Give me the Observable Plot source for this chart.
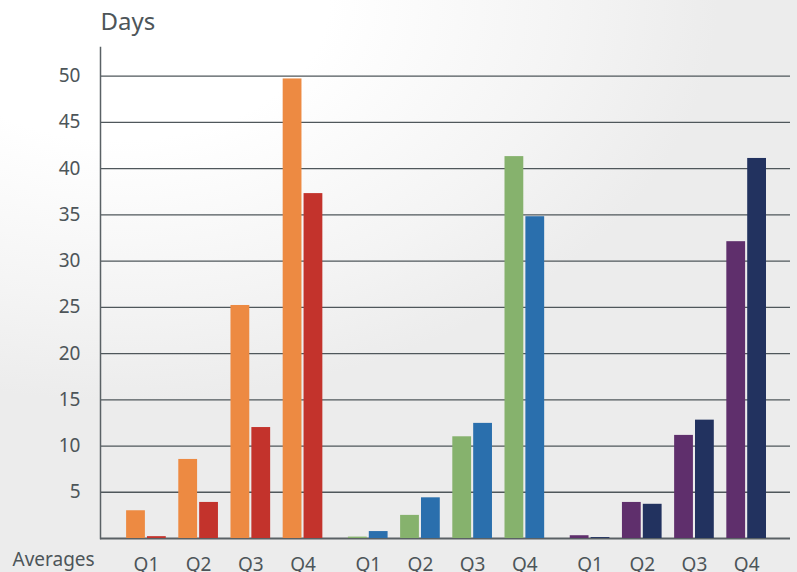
<!DOCTYPE html>
<html>
<head>
<meta charset="utf-8">
<script src="https://cdn.jsdelivr.net/npm/d3@7"></script>
<script src="https://cdn.jsdelivr.net/npm/@observablehq/plot@0.6"></script>
<style>
  html, body { margin: 0; padding: 0; }
  body {
    width: 797px; height: 572px; overflow: hidden;
    background: radial-gradient(ellipse 75% 70% at 15% 0%, #ffffff 35%, #f4f4f4 75%, #ececec 100%);
    font-family: "Noto Sans", "Open Sans", sans-serif;
  }
</style>
</head>
<body>
<div id="chart"></div>
<script>
const groups = ["A", "B", "C"];
const quarters = ["Q1", "Q2", "Q3", "Q4"];
const firstValues = [
  [3.0, 8.55, 25.2, 49.7],
  [0.15, 2.5, 11.0, 41.3],
  [0.3, 3.9, 11.15, 32.1]
];
const secondValues = [
  [0.2, 3.9, 12.0, 37.3],
  [0.75, 4.4, 12.45, 34.8],
  [0.1, 3.7, 12.8, 41.1]
];
const firstColors = ["#ED8A42", "#86B26D", "#5F2F6C"];
const secondColors = ["#C3332C", "#2A6FAD", "#22325F"];
const yTicks = [5, 10, 15, 20, 25, 30, 35, 40, 45, 50];
const yLabel = "Days";
const rowLabel = "Averages";

// layout parameters (in quarter-slot units)
const groupGap = 0.25;
const barHalfGap = 0.02;
const barWidth = 0.36;

const rows = [];
groups.forEach((g, gi) => quarters.forEach((q, qi) => {
  const slot = gi * (quarters.length + groupGap) + qi;
  rows.push({group: g, quarter: q, slot, first: firstValues[gi][qi], second: secondValues[gi][qi],
             c1: firstColors[gi], c2: secondColors[gi]});
}));
const lastSlot = d3.max(rows, d => d.slot);

const ink = "#4d5559";
const chart = Plot.plot({
  width: 797,
  height: 572,
  marginLeft: 100,
  marginRight: 7,
  marginTop: 47,
  marginBottom: 34,
  style: {background: "transparent", fontFamily: "'Noto Sans', 'Open Sans', sans-serif"},
  x: {type: "linear", domain: [-0.88, lastSlot + 0.84], axis: null},
  y: {domain: [0, 53.1], axis: null},
  marks: [
    Plot.ruleY(yTicks, {y: d => d, stroke: "#4f575b", strokeWidth: 1.3}),
    Plot.ruleY([0], {stroke: "#5a6165", strokeWidth: 1.8}),
    Plot.frame({anchor: "left", stroke: "#5a6165", strokeWidth: 1.5}),
    Plot.text(yTicks, {y: d => d, text: d => String(d), frameAnchor: "left", textAnchor: "end", dx: -20, fill: ink, fontSize: 19}),
    Plot.text([yLabel], {text: d => d, frameAnchor: "top-left", textAnchor: "start", dy: -35, fill: ink, fontSize: 24}),
    Plot.text([rowLabel], {text: d => d, frameAnchor: "bottom-left", textAnchor: "start", dx: -88, dy: 27, fill: ink, fontSize: 19}),
    Plot.rectY(rows, {x1: d => d.slot - barHalfGap - barWidth, x2: d => d.slot - barHalfGap, y: "first", fill: "c1"}),
    Plot.rectY(rows, {x1: d => d.slot + barHalfGap, x2: d => d.slot + barHalfGap + barWidth, y: "second", fill: "c2"}),
    Plot.text(rows, {x: "slot", text: "quarter", frameAnchor: "bottom", dy: 32, fill: ink, fontSize: 19})
  ]
});
document.getElementById("chart").appendChild(chart);
</script>
</body>
</html>
